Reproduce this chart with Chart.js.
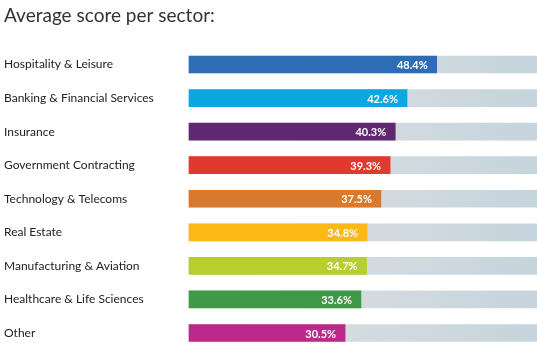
<!DOCTYPE html>
<html>
<head>
<meta charset="utf-8">
<script src="https://cdn.jsdelivr.net/npm/chart.js@4/dist/chart.umd.min.js"></script>
<style>
  html, body { margin: 0; padding: 0; background: #ffffff; }
  #wrap { width: 537px; height: 348px; }
</style>
</head>
<body>
<div id="wrap"><canvas id="c" width="537" height="348"></canvas></div>
<script>
// Sectors and their average scores (%)
const sectors = [
  'Hospitality & Leisure',
  'Banking & Financial Services',
  'Insurance',
  'Government Contracting',
  'Technology & Telecoms',
  'Real Estate',
  'Manufacturing & Aviation',
  'Healthcare & Life Sciences',
  'Other'
];
const scores = [48.4, 42.6, 40.3, 39.3, 37.5, 34.8, 34.7, 33.6, 30.5];
const barColors = ['#2e6db5', '#0aa8df', '#5f2870', '#e0392f', '#d8792e', '#fbb817', '#b6cf2f', '#3f9a48', '#bb2a8b'];

// Full-length track drawn behind each bar
const axisMax = 68;
const trackValues = [68, 68, 68, 68, 68, 68, 68, 68, 68];

const FONT = 'Lato, "Open Sans", sans-serif';

function trackGradient(ctx) {
  const chart = ctx.chart;
  const area = chart.chartArea;
  if (!area) return '#d8dcdf';
  const g = chart.ctx.createLinearGradient(area.left, 0, area.right, 0);
  g.addColorStop(0, '#e2e2e2');
  g.addColorStop(1, '#c6d4dd');
  return g;
}

// Writes each score in white near the end of its bar
const valueLabels = {
  id: 'valueLabels',
  afterDatasetsDraw(chart) {
    const meta = chart.getDatasetMeta(1);
    const c = chart.ctx;
    c.save();
    c.font = 'bold 11px ' + FONT;
    c.fillStyle = '#ffffff';
    c.textAlign = 'right';
    c.textBaseline = 'middle';
    meta.data.forEach((bar, i) => {
      c.fillText(scores[i].toFixed(1) + '%', bar.x - 9, bar.y + 1);
    });
    c.restore();
  }
};

new Chart(document.getElementById('c'), {
  type: 'bar',
  data: {
    labels: sectors,
    datasets: [
      {
        data: trackValues,
        backgroundColor: trackGradient,
        barThickness: 17,
        grouped: false,
        clip: false,
        order: 2
      },
      {
        data: scores,
        backgroundColor: barColors,
        barThickness: 17,
        grouped: false,
        clip: false,
        order: 1
      }
    ]
  },
  options: {
    indexAxis: 'y',
    responsive: false,
    animation: false,
    layout: { padding: { left: 4, right: 0, top: 0, bottom: 15 } },
    plugins: {
      legend: { display: false },
      tooltip: { enabled: false },
      title: {
        display: true,
        text: 'Average score per sector:',
        align: 'start',
        color: '#333333',
        font: { family: FONT, size: 19, weight: 'normal' },
        padding: { top: 4, bottom: 37.7 }
      }
    },
    scales: {
      x: {
        min: 0,
        max: axisMax,
        display: false,
        grid: { display: false }
      },
      y: {
        offset: false,
        grid: { display: false },
        border: { display: false },
        ticks: {
          crossAlign: 'far',
          color: '#222222',
          font: { family: FONT, size: 12 },
          padding: 0
        },
        afterFit(scale) { scale.width = 185; }
      }
    }
  },
  plugins: [valueLabels]
});
</script>
</body>
</html>
